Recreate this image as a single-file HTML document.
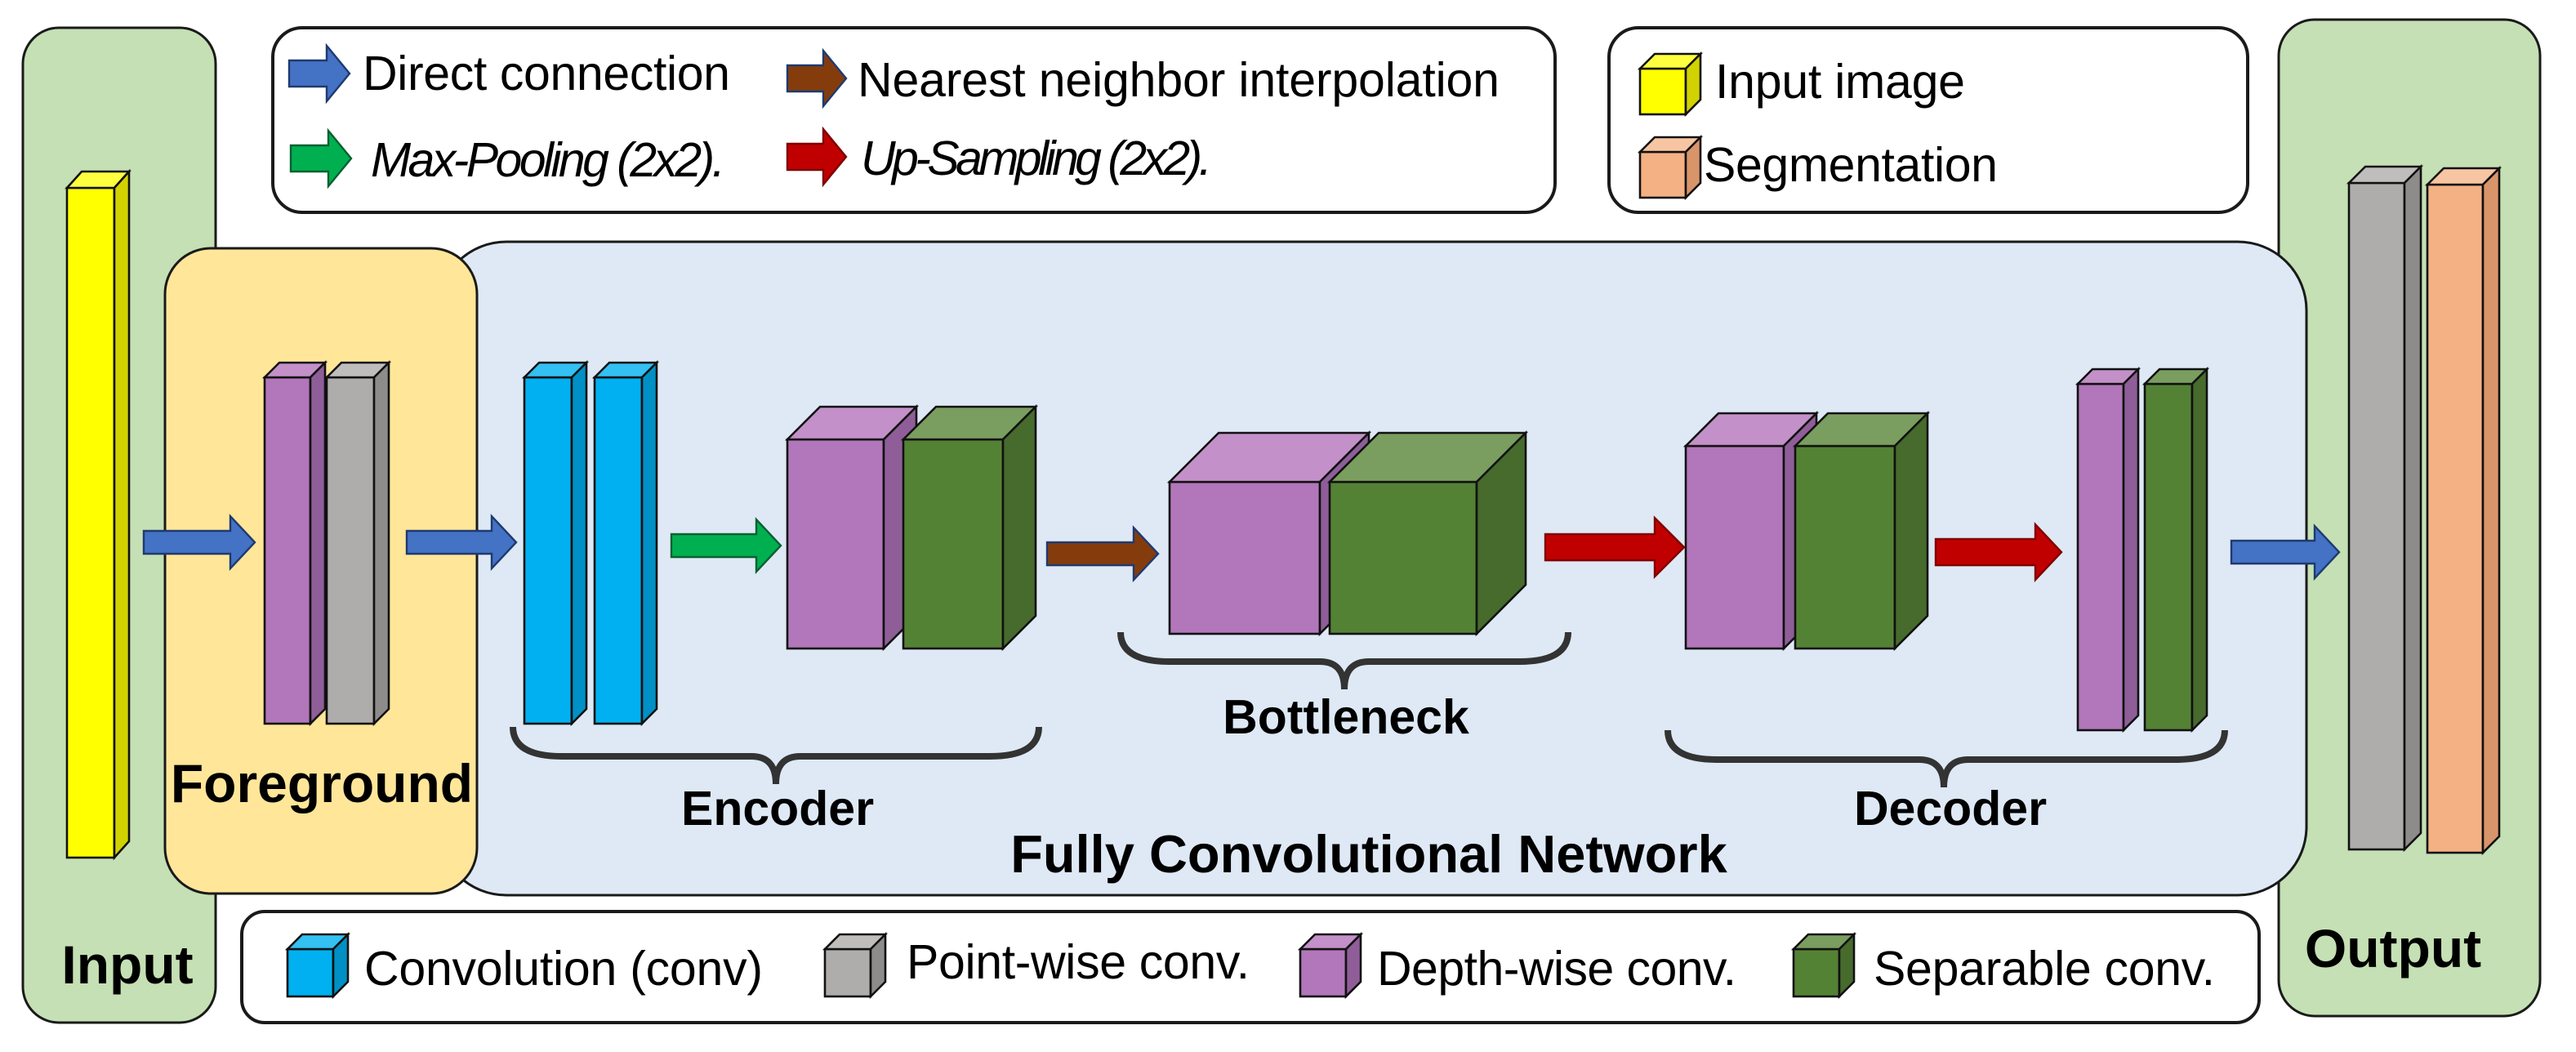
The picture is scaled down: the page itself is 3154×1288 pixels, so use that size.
<!DOCTYPE html>
<html><head><meta charset="utf-8"><style>
html,body{margin:0;padding:0;background:#fff;}
svg{display:block;}
text{font-family:"Liberation Sans",Arial,sans-serif;fill:#000;}
.b{font-weight:bold;}
.i{font-style:italic;}
</style></head><body>
<svg width="3154" height="1288" viewBox="0 0 1577 644" xmlns="http://www.w3.org/2000/svg">
<g stroke="#1a1a1a" stroke-width="1.5">
<rect x="14" y="17" width="118" height="609" rx="22" fill="#c5e0b4"/>
<rect x="1395" y="12" width="160" height="610" rx="22" fill="#c5e0b4"/>
<rect x="167" y="17" width="785" height="113" rx="18" fill="#fff" stroke-width="2"/>
<rect x="985" y="17" width="391" height="113" rx="18" fill="#fff" stroke-width="2"/>
<rect x="148" y="558" width="1235" height="68" rx="14" fill="#fff" stroke-width="2"/>
<rect x="268" y="148" width="1144" height="400" rx="42" fill="#dee9f5"/>
<rect x="101" y="152" width="191" height="395" rx="28" fill="#ffe699"/>
</g>
<g stroke="#111" stroke-width="1.3" stroke-linejoin="miter">
<rect x="41" y="115" width="29" height="410" fill="#ffff00"/>
<polygon points="41,115 50,105 79,105 70,115" fill="#ffff40"/>
<polygon points="70,115 79,105 79,515 70,525" fill="#d2d200"/>
<rect x="162" y="231" width="28" height="212" fill="#b276ba"/>
<polygon points="162,231 171,222 199,222 190,231" fill="#c490c9"/>
<polygon points="190,231 199,222 199,434 190,443" fill="#8f5e99"/>
<rect x="200" y="231" width="29" height="212" fill="#afadac"/>
<polygon points="200,231 209,222 238,222 229,231" fill="#c0bebd"/>
<polygon points="229,231 238,222 238,434 229,443" fill="#8e8c8b"/>
<rect x="321" y="231" width="29" height="212" fill="#00b0f0"/>
<polygon points="321,231 330,222 359,222 350,231" fill="#33c0f3"/>
<polygon points="350,231 359,222 359,434 350,443" fill="#0090c5"/>
<rect x="364" y="231" width="29" height="212" fill="#00b0f0"/>
<polygon points="364,231 373,222 402,222 393,231" fill="#33c0f3"/>
<polygon points="393,231 402,222 402,434 393,443" fill="#0090c5"/>
<rect x="482" y="269" width="59" height="128" fill="#b276ba"/>
<polygon points="482,269 502,249 561,249 541,269" fill="#c490c9"/>
<polygon points="541,269 561,249 561,377 541,397" fill="#8f5e99"/>
<rect x="553" y="269" width="61" height="128" fill="#548235"/>
<polygon points="553,269 573,249 634,249 614,269" fill="#7a9e5f"/>
<polygon points="614,269 634,249 634,377 614,397" fill="#466b2c"/>
<rect x="716" y="295" width="92" height="93" fill="#b276ba"/>
<polygon points="716,295 746,265 838,265 808,295" fill="#c490c9"/>
<polygon points="808,295 838,265 838,358 808,388" fill="#8f5e99"/>
<rect x="814" y="295" width="90" height="93" fill="#548235"/>
<polygon points="814,295 844,265 934,265 904,295" fill="#7a9e5f"/>
<polygon points="904,295 934,265 934,358 904,388" fill="#466b2c"/>
<rect x="1032" y="273" width="60" height="124" fill="#b276ba"/>
<polygon points="1032,273 1052,253 1112,253 1092,273" fill="#c490c9"/>
<polygon points="1092,273 1112,253 1112,377 1092,397" fill="#8f5e99"/>
<rect x="1099" y="273" width="61" height="124" fill="#548235"/>
<polygon points="1099,273 1119,253 1180,253 1160,273" fill="#7a9e5f"/>
<polygon points="1160,273 1180,253 1180,377 1160,397" fill="#466b2c"/>
<rect x="1272" y="235" width="28" height="212" fill="#b276ba"/>
<polygon points="1272,235 1281,226 1309,226 1300,235" fill="#c490c9"/>
<polygon points="1300,235 1309,226 1309,438 1300,447" fill="#8f5e99"/>
<rect x="1313" y="235" width="29" height="212" fill="#548235"/>
<polygon points="1313,235 1322,226 1351,226 1342,235" fill="#7a9e5f"/>
<polygon points="1342,235 1351,226 1351,438 1342,447" fill="#466b2c"/>
<rect x="1438" y="112" width="34" height="408" fill="#afadac"/>
<polygon points="1438,112 1448,102 1482,102 1472,112" fill="#c0bebd"/>
<polygon points="1472,112 1482,102 1482,510 1472,520" fill="#8e8c8b"/>
<rect x="1486" y="113" width="34" height="409" fill="#f4b183"/>
<polygon points="1486,113 1496,103 1530,103 1520,113" fill="#f7c5a2"/>
<polygon points="1520,113 1530,103 1530,512 1520,522" fill="#d9956a"/>
<rect x="1004" y="42" width="28" height="28" fill="#ffff00"/>
<polygon points="1004,42 1013,33 1041,33 1032,42" fill="#ffff40"/>
<polygon points="1032,42 1041,33 1041,61 1032,70" fill="#d2d200"/>
<rect x="1004" y="93" width="28" height="28" fill="#f4b183"/>
<polygon points="1004,93 1013,84 1041,84 1032,93" fill="#f7c5a2"/>
<polygon points="1032,93 1041,84 1041,112 1032,121" fill="#d9956a"/>
<rect x="176" y="581" width="28" height="29" fill="#00b0f0"/>
<polygon points="176,581 185,572 213,572 204,581" fill="#33c0f3"/>
<polygon points="204,581 213,572 213,601 204,610" fill="#0090c5"/>
<rect x="505" y="581" width="28" height="29" fill="#afadac"/>
<polygon points="505,581 514,572 542,572 533,581" fill="#c0bebd"/>
<polygon points="533,581 542,572 542,601 533,610" fill="#8e8c8b"/>
<rect x="796" y="581" width="28" height="29" fill="#b276ba"/>
<polygon points="796,581 805,572 833,572 824,581" fill="#c490c9"/>
<polygon points="824,581 833,572 833,601 824,610" fill="#8f5e99"/>
<rect x="1098" y="581" width="28" height="29" fill="#548235"/>
<polygon points="1098,581 1107,572 1135,572 1126,581" fill="#7a9e5f"/>
<polygon points="1126,581 1135,572 1135,601 1126,610" fill="#466b2c"/>
</g>
<g stroke="#1f3a70" stroke-width="1.2">
<path d="M88,325 H141 V316 L156,332 L141,348 V339 H88 Z" fill="#4472c4"/>
<path d="M249,325 H301 V316 L316,332 L301,348 V339 H249 Z" fill="#4472c4"/>
<path d="M411,327 H463 V318 L478,334 L463,350 V341 H411 Z" fill="#00b050" stroke="#0a6030"/>
<path d="M641,332 H694 V323 L709,339 L694,355 V346 H641 Z" fill="#843c0c"/>
<path d="M946,327 H1013 V317 L1031,335 L1013,353 V343 H946 Z" fill="#c00000" stroke="#800000"/>
<path d="M1185,330 H1246 V321 L1262,338 L1246,355 V346 H1185 Z" fill="#c00000" stroke="#800000"/>
<path d="M1366,331 H1417 V322 L1432,338 L1417,354 V345 H1366 Z" fill="#4472c4"/>
<path d="M177,37 H200 V28 L214,45 L200,62 V53 H177 Z" fill="#4472c4"/>
<path d="M178,89 H201 V80 L215,97 L201,114 V105 H178 Z" fill="#00b050" stroke="#0a6030"/>
<path d="M482,40 H504 V31 L518,48 L504,65 V56 H482 Z" fill="#843c0c"/>
<path d="M482,88 H504 V79 L518,96 L504,113 V104 H482 Z" fill="#c00000" stroke="#800000"/>
</g>
<g fill="none" stroke="#333" stroke-width="4">
<path d="M314,445 Q314,463 344,463 H460 Q475,463 475,480 Q475,463 490,463 H606 Q636,463 636,445"/>
<path d="M686,387 Q686,405 716,405 H808 Q823,405 823,422 Q823,405 838,405 H930 Q960,405 960,387"/>
<path d="M1021,447 Q1021,465 1051,465 H1175 Q1190,465 1190,482 Q1190,465 1205,465 H1332 Q1362,465 1362,447"/>
</g>
<text x="222" y="55" font-size="29.5" textLength="225">Direct connection</text>
<text x="227" y="108" font-size="29.5" class="i" textLength="217">Max-Pooling (2x2).</text>
<text x="525" y="59" font-size="29.5" textLength="393">Nearest neighbor interpolation</text>
<text x="527" y="107" font-size="29.5" class="i" textLength="215">Up-Sampling (2x2).</text>
<text x="1050" y="60" font-size="29.5" textLength="153">Input image</text>
<text x="1043" y="111" font-size="29.5" textLength="180">Segmentation</text>
<text x="223" y="603" font-size="29.5" textLength="244">Convolution (conv)</text>
<text x="555" y="599" font-size="29.5" textLength="210">Point-wise conv.</text>
<text x="843" y="603" font-size="29.5" textLength="220">Depth-wise conv.</text>
<text x="1147" y="603" font-size="29.5" textLength="209">Separable conv.</text>
<text x="197" y="491" font-size="33" class="b" text-anchor="middle">Foreground</text>
<text x="476" y="505" font-size="29.5" class="b" text-anchor="middle">Encoder</text>
<text x="824" y="449" font-size="29.5" class="b" text-anchor="middle">Bottleneck</text>
<text x="1194" y="505" font-size="29.5" class="b" text-anchor="middle">Decoder</text>
<text x="838" y="534" font-size="32.5" class="b" text-anchor="middle">Fully Convolutional Network</text>
<text x="78" y="602" font-size="33" class="b" text-anchor="middle">Input</text>
<text x="1465" y="592" font-size="33" class="b" text-anchor="middle">Output</text>
</svg>
</body></html>
